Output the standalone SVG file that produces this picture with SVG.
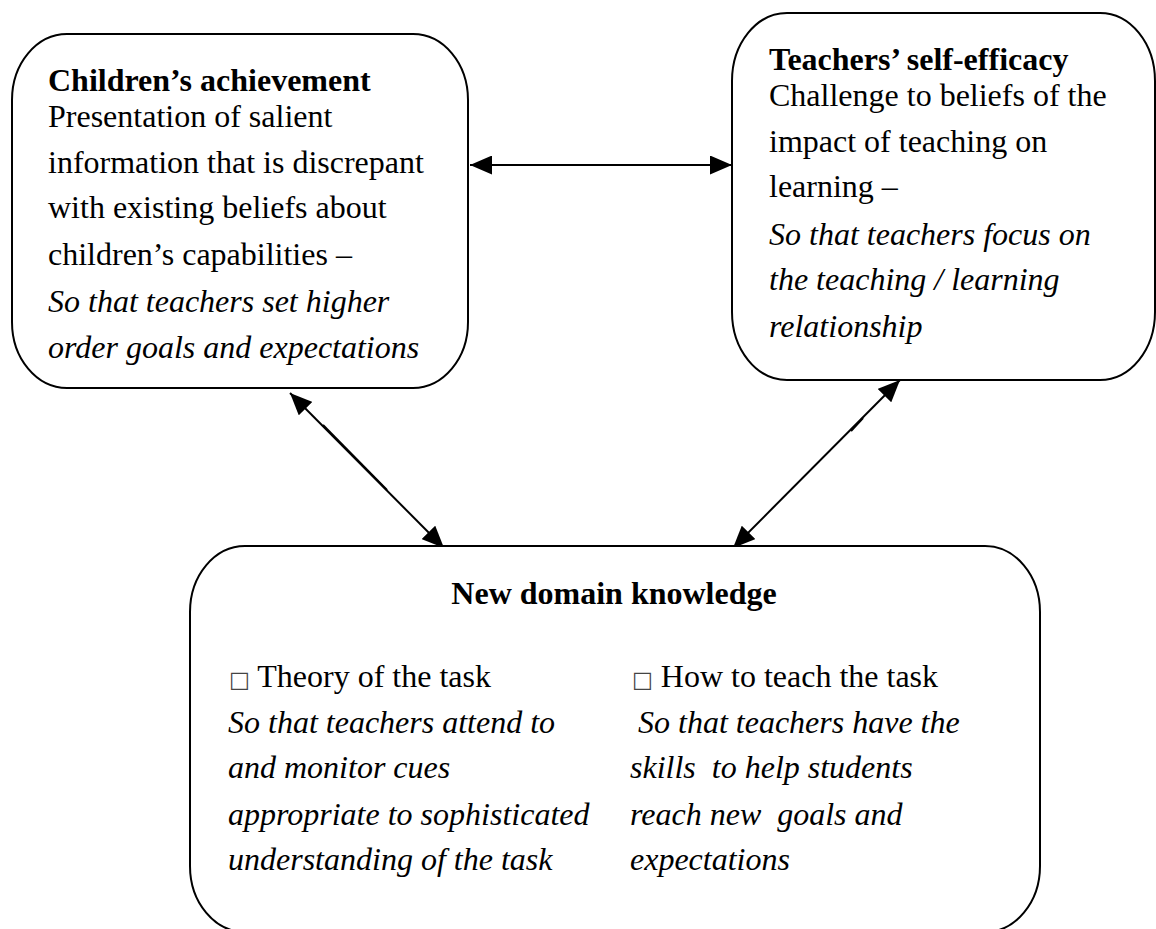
<svg xmlns="http://www.w3.org/2000/svg" width="1156" height="929" viewBox="0 0 1156 929">
<style>
.box{fill:#fff;stroke:#000;stroke-width:2}
.t{font-family:"Liberation Serif","Times New Roman",serif;font-size:32px;fill:#000}
.b{font-weight:bold}
.i{font-style:italic}
.con{stroke:#000;stroke-width:2;fill:none}
</style>
<defs>
<marker id="ah" viewBox="0 0 22 19" refX="22" refY="9.5" markerWidth="22" markerHeight="19" markerUnits="userSpaceOnUse" orient="auto-start-reverse">
<path d="M0,0 L22,9.5 L0,19 z" fill="#000"/>
</marker>
</defs>
<rect width="1156" height="929" fill="#fff"/>
<g id="connectors">
<line class="con" x1="470" y1="165" x2="732" y2="165" marker-start="url(#ah)" marker-end="url(#ah)"/>
<line class="con" x1="290" y1="393" x2="444" y2="548" marker-start="url(#ah)" marker-end="url(#ah)"/>
<line class="con" x1="323" y1="425" x2="387" y2="490" stroke-width="3.5"/>
<line class="con" x1="900" y1="380" x2="733" y2="548" marker-start="url(#ah)" marker-end="url(#ah)"/>
<line class="con" x1="863" y1="418" x2="851" y2="431" stroke-width="3.5"/>
</g>
<g id="node-children">
<rect class="box" x="12" y="34" width="456" height="354" rx="55" ry="66"/>
<text class="t b" x="48" y="91">Children’s achievement</text>
<text class="t" x="48" y="127">Presentation of salient</text>
<text class="t" x="48" y="173">information that is discrepant</text>
<text class="t" x="48" y="218">with existing beliefs about</text>
<text class="t" x="48" y="265">children’s capabilities –</text>
<text class="t i" x="48" y="312">So that teachers set higher</text>
<text class="t i" x="48" y="358">order goals and expectations</text>
</g>
<g id="node-teachers">
<rect class="box" x="732" y="13" width="423" height="367" rx="55" ry="68"/>
<text class="t b" x="769" y="70">Teachers’ self-efficacy</text>
<text class="t" x="769" y="106">Challenge to beliefs of the</text>
<text class="t" x="769" y="152">impact of teaching on</text>
<text class="t" x="769" y="197">learning –</text>
<text class="t i" x="769" y="245">So that teachers focus on</text>
<text class="t i" x="769" y="290">the teaching / learning</text>
<text class="t i" x="769" y="337">relationship</text>
</g>
<g id="node-domain">
<rect class="box" x="190" y="546" width="850" height="386" rx="55" ry="66"/>
<text class="t b" x="614" y="604" text-anchor="middle">New domain knowledge</text>
<text class="t" x="229" y="687"><tspan font-size="22" font-family="DejaVu Sans, sans-serif" fill="#444">□</tspan> Theory of the task</text>
<text class="t" x="632" y="687"><tspan font-size="22" font-family="DejaVu Sans, sans-serif" fill="#444">□</tspan> How to teach the task</text>
<text class="t i" x="228" y="733">So that teachers attend to</text>
<text class="t i" x="228" y="778">and monitor cues</text>
<text class="t i" x="228" y="825">appropriate to sophisticated</text>
<text class="t i" x="228" y="870">understanding of the task</text>
<text class="t i" x="638" y="733">So that teachers have the</text>
<text class="t i" x="630" y="778" xml:space="preserve">skills  to help students</text>
<text class="t i" x="630" y="825" xml:space="preserve">reach new  goals and</text>
<text class="t i" x="630" y="870">expectations</text>
</g>
</svg>
